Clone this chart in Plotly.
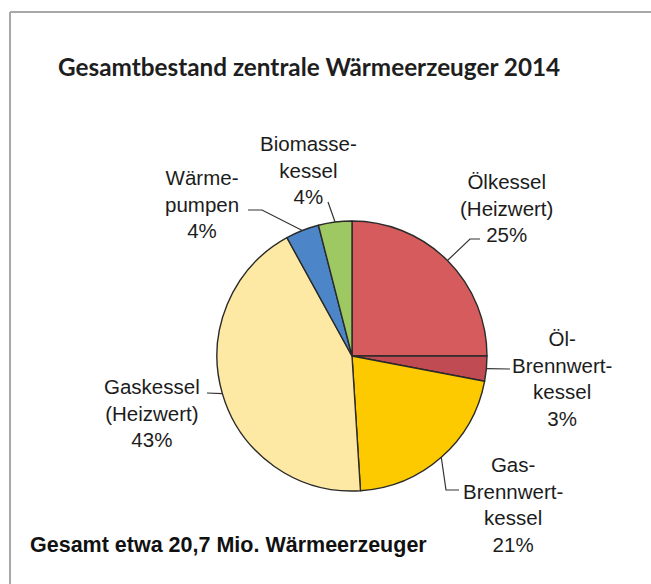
import math
import plotly.graph_objects as go

W, H = 651, 584

labels = ["Ölkessel (Heizwert)", "Öl-Brennwertkessel", "Gas-Brennwertkessel",
          "Gaskessel (Heizwert)", "Wärmepumpen", "Biomassekessel"]
label_texts = ["Ölkessel<br>(Heizwert)", "Öl-<br>Brennwert-<br>kessel",
               "Gas-<br>Brennwert-<br>kessel", "Gaskessel<br>(Heizwert)",
               "Wärme-<br>pumpen", "Biomasse-<br>kessel"]
values = [25, 3, 21, 43, 4, 4]
colors = ["#d65b5d", "#c04b52", "#fdca00", "#fde9a3", "#4c86c8", "#9dc862"]

title_text = "Gesamtbestand zentrale Wärmeerzeuger 2014"
footer_text = "Gesamt etwa 20,7 Mio. Wärmeerzeuger"

# layout (pixels)
CX, CY, R = 352, 356, 135
label_pos = [(506, 208), (562, 378), (513, 504), (152, 413), (202, 204), (308, 170)]
elbows = [[(470, 239), (480, 239)], [(510, 369)], [(446, 490), (459, 490)],
          [(207, 393)], [(262, 210), (248, 210)], [(328, 202)]]


def px(x):
    return x / W


def py(y):
    return 1 - y / H


fig = go.Figure(go.Pie(
    labels=labels, values=values, sort=False, direction="clockwise", rotation=0,
    marker=dict(colors=colors, line=dict(color="#2a2a2a", width=1.4)),
    textinfo="none", hoverinfo="label+percent", showlegend=False,
    domain=dict(x=[px(CX - R), px(CX + R)], y=[py(CY + R), py(CY - R)]),
))

shapes = [
    dict(type="line", xref="paper", yref="paper", x0=px(10), x1=1, y0=py(12), y1=py(12),
         line=dict(color="#a8a8a8", width=2)),
    dict(type="line", xref="paper", yref="paper", x0=px(10), x1=px(10), y0=py(12), y1=0,
         line=dict(color="#a8a8a8", width=2)),
]
annotations = []
total = sum(values)
cum = 0
for i, v in enumerate(values):
    mid = (cum + v / 2) / total * 2 * math.pi
    cum += v
    ex, ey = CX + R * math.sin(mid), CY - R * math.cos(mid)
    pts = [(ex, ey)] + elbows[i]
    path = "M " + " L ".join(f"{px(x):.5f},{py(y):.5f}" for x, y in pts)
    shapes.append(dict(type="path", xref="paper", yref="paper", path=path,
                       line=dict(color="#333333", width=1.2)))
    pct = round(v / total * 100)
    lx, ly = label_pos[i]
    annotations.append(dict(
        text=f"{label_texts[i]}<br>{pct}%", x=px(lx), y=py(ly), xref="paper", yref="paper",
        xanchor="center", yanchor="middle", showarrow=False, align="center",
        font=dict(family="Liberation Sans, Arial, sans-serif", size=20.5, color="#1c1c1c")))

annotations.append(dict(text=title_text, x=px(56), y=py(67), xref="paper", yref="paper",
                        xanchor="left", yanchor="middle", showarrow=False,
                        font=dict(family="Lato, sans-serif", size=24.3, color="#1e1e1e", weight="bold")))
annotations.append(dict(text=footer_text, x=px(28), y=py(545), xref="paper", yref="paper",
                        xanchor="left", yanchor="middle", showarrow=False,
                        font=dict(family="Liberation Sans, Arial, sans-serif", size=21.5,
                                  color="#111111", weight="bold")))

fig.update_layout(width=W, height=H, margin=dict(l=0, r=0, t=0, b=0),
                  paper_bgcolor="white", plot_bgcolor="white",
                  shapes=shapes, annotations=annotations)

post = (
    "document.documentElement.style.overflow='hidden';"
    "document.body.style.margin='0';document.body.style.overflow='hidden';"
    "var gd=document.getElementsByClassName('plotly-graph-div')[0];"
    "if(gd){gd.style.position='fixed';gd.style.left='0px';gd.style.top='0px';}"
)
fig.write_html("out.html", config={"displayModeBar": False}, post_script=post)
